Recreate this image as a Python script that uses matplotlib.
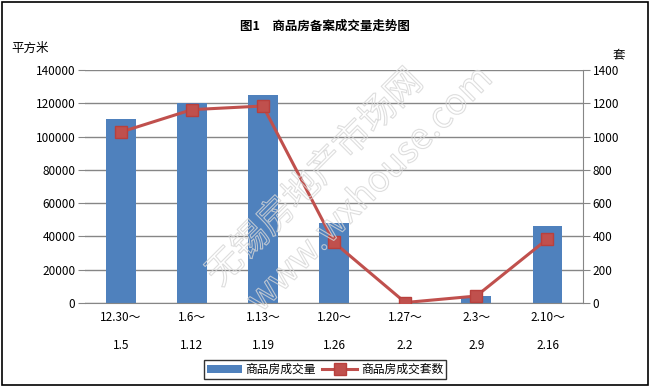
import matplotlib.pyplot as plt
import matplotlib.patheffects as pe
import numpy as np

plt.rcParams['font.family'] = ['Noto Sans CJK SC', 'DejaVu Sans']

# weekly periods
weeks = ['12.30～\n\n1.5', '1.6～\n\n1.12', '1.13～\n\n1.19', '1.20～\n\n1.26',
         '1.27～\n\n2.2', '2.3～\n\n2.9', '2.10～\n\n2.16']
area = [110500, 120000, 125000, 48200, 0, 4200, 46200]   # 平方米
units = [1027, 1162, 1184, 364, 3, 42, 385]              # 套

blue = '#4f81bd'
red = '#c0504d'
grid_c = '#868686'

fig = plt.figure(figsize=(6.5, 3.87), dpi=100)
ax = fig.add_axes([0.131, 0.217, 0.766, 0.602])
ax2 = ax.twinx()

x = np.arange(len(weeks))
bars = ax.bar(x, area, width=0.42, color=blue, zorder=2, label='商品房成交量')
line, = ax2.plot(x, units, color=red, lw=2.2, marker='s', ms=8,
                 mfc=red, mec='#b8403d', zorder=3, label='商品房成交套数')

ax.set_xlim(-0.5, len(weeks) - 0.5)
ax.set_ylim(0, 140000)
ax2.set_ylim(0, 1400)
ax.set_yticks(np.arange(0, 140001, 20000))
ax2.set_yticks(np.arange(0, 1401, 200))
ax.yaxis.grid(True, color=grid_c, lw=1)
ax.set_axisbelow(True)
ax.set_xticks(x)
ax.set_xticklabels(weeks, fontsize=8.5, linespacing=1.1)

for a in (ax, ax2):
    for s in a.spines.values():
        s.set_visible(False)
ax2.spines['right'].set_visible(True)
ax2.spines['right'].set_color(grid_c)
ax.spines['bottom'].set_visible(True)
ax.spines['bottom'].set_color(grid_c)
ax.tick_params(axis='y', length=5, color=grid_c, labelsize=8.5, pad=2)
ax2.tick_params(axis='y', length=5, color=grid_c, labelsize=8.5, pad=2)
ax.tick_params(axis='x', length=0, pad=6)

ax.set_zorder(1)
ax2.set_zorder(2)
ax2.patch.set_visible(False)

fig.text(0.5, 0.933, '图1　商品房备案成交量走势图', ha='center', va='center',
         fontsize=9, fontweight='bold')
fig.text(0.018, 0.876, '平方米', ha='left', va='center', fontsize=9)
fig.text(0.952, 0.858, '套', ha='center', va='center', fontsize=9)

# faint outlined watermark
wm = dict(color=(1, 1, 1, 0), fontsize=26, rotation=45, ha='center',
          va='center', fontweight='light',
          path_effects=[pe.Stroke(linewidth=0.8,
                                  foreground=(0.84, 0.84, 0.84, 0.8))],
          zorder=5)
fig.text(0.485, 0.54, '无锡房地产市场网', **wm)
fig.text(0.57, 0.51, 'www.wxhouse.com', **wm)

leg = fig.legend(handles=[bars, line], loc='center', ncol=2,
                 bbox_to_anchor=(0.5, 0.045), fontsize=8.5, frameon=True,
                 fancybox=False, edgecolor='black', handlelength=3,
                 borderpad=0.25, columnspacing=0.5, handletextpad=0.3)
leg.get_frame().set_linewidth(1)

border = plt.Rectangle((0.003, 0.005), 0.994, 0.99, transform=fig.transFigure,
                       fill=False, edgecolor='black', lw=1.2)
fig.patches.append(border)

fig.savefig('out.png', dpi=100)
